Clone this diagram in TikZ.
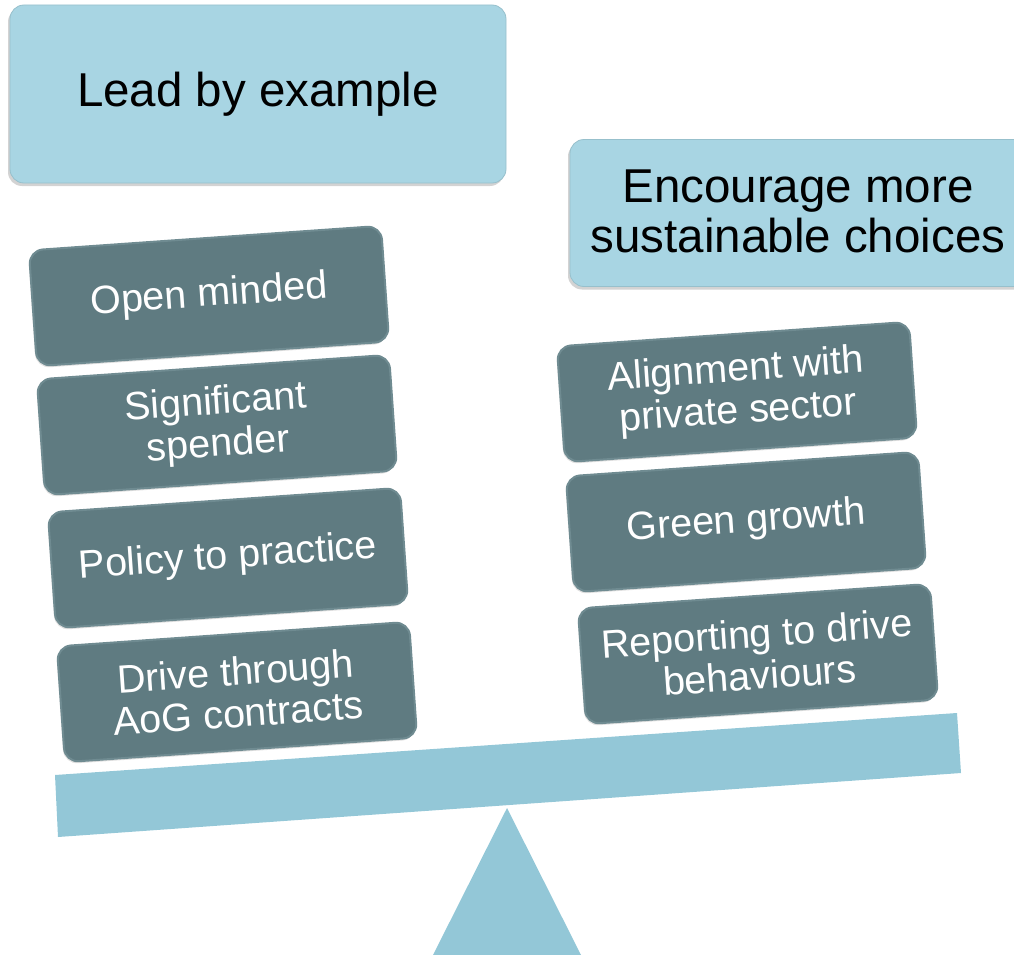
\documentclass[tikz,border=0pt]{standalone}
\usepackage{fontspec}
\setmainfont{Liberation Sans}
\usetikzlibrary{shadows}
\definecolor{lightbox}{HTML}{A8D5E3}
\definecolor{beamcol}{HTML}{93C7D7}
\definecolor{darkbox}{HTML}{5F7B81}
\definecolor{darkedge}{HTML}{6F8B91}
\begin{document}
\begin{tikzpicture}[x=1pt,y=-1pt,
  titlebox/.style={fill=lightbox, draw=lightbox!90!black, line width=0.8,
    rounded corners=14, drop shadow={shadow xshift=-2pt, shadow yshift=-3pt, opacity=0.35},
    inner sep=0},
  titletext/.style={text=black, align=center, font=\fontsize{47.5}{50}\selectfont, inner sep=0},
  itembox/.style={fill=darkbox, draw=darkedge, line width=2, rounded corners=14,
    minimum width=353, minimum height=116, rotate=4, align=center, text=white,
    font=\fontsize{39.5}{42}\selectfont, inner sep=0,
    drop shadow={shadow xshift=-1pt, shadow yshift=-2pt, opacity=0.25}},
  beam/.style={fill=beamcol, draw=none}
]
\useasboundingbox (0,0) rectangle (1014,955);

% title boxes
\node[titlebox, minimum width=496, minimum height=178] (lead) at (258,94) {};
\node[titletext] (leadtxt) at (lead.center) {Lead by example};
\node[titlebox, minimum width=460, minimum height=147] (enc) at (800,213) {};
\node[titletext] (enctxt) at (798,211) {Encourage more\\sustainable choices};

% left stack
\node[itembox] (l1) at (209,296) {Open minded};
\node[itembox] (l2) at (217,425) {Significant\\spender};
\node[itembox] (l3) at (228,558) {Policy to practice};
\node[itembox] (l4) at (237,692) {Drive through\\AoG contracts};

% right stack
\node[itembox] (r1) at (737,392) {Alignment with\\private sector};
\node[itembox] (r2) at (746,522) {Green growth};
\node[itembox] (r3) at (758,654) {Reporting to drive\\behaviours};

% fulcrum and beam
\coordinate (apex) at (507,808);
\coordinate (bl) at (433,955);
\coordinate (br) at (581,955);
\fill[beam] (apex) -- (br) -- (bl) -- cycle;
\coordinate (b1) at (55,775);
\coordinate (b2) at (957,713);
\coordinate (b3) at (961,773);
\coordinate (b4) at (58,837);
\fill[beam] (b1) -- (b2) -- (b3) -- (b4) -- cycle;
\end{tikzpicture}
\end{document}
